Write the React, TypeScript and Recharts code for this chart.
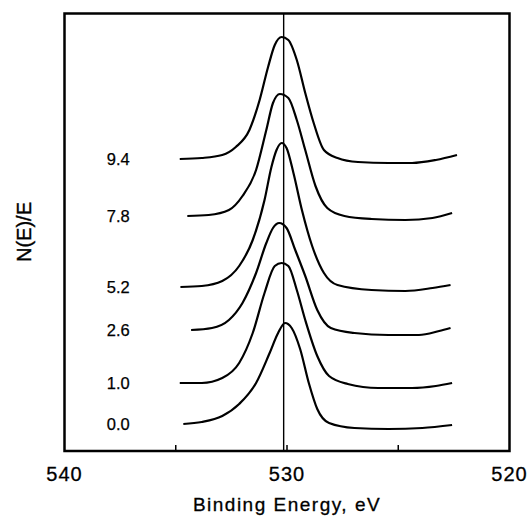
import React from "react";
import {
  LineChart,
  Line,
  XAxis,
  YAxis,
  ReferenceLine,
  ReferenceArea,
  ReferenceDot,
} from "recharts";

// O 1s spectra, [binding energy eV, N(E)/E offset intensity]
const curve94: [number, number][] = [
  [534.82, 292], [533.83, 293], [532.91, 296], [532.3, 304], [531.69, 321],
  [531.23, 351], [530.85, 384], [530.55, 406], [530.24, 414], [529.94, 411],
  [529.56, 391], [529.18, 358], [528.8, 328], [528.34, 301], [527.73, 293],
  [526.81, 289], [525.44, 288], [524.38, 288], [523.31, 291], [522.36, 296],
];
const curve78: [number, number][] = [
  [534.48, 235], [533.52, 236], [532.61, 241], [532.0, 255], [531.39, 281],
  [530.93, 321], [530.63, 348], [530.32, 357], [529.94, 353], [529.56, 331],
  [529.18, 301], [528.72, 265], [528.19, 243], [527.42, 235], [526.2, 232],
  [524.68, 231], [523.46, 233], [522.58, 238],
];
const curve52: [number, number][] = [
  [534.79, 164], [533.83, 165], [532.91, 170], [532.15, 185], [531.54, 211],
  [531.01, 251], [530.7, 284], [530.47, 301], [530.24, 308], [530.02, 303],
  [529.71, 278], [529.33, 241], [528.87, 205], [528.34, 178], [527.73, 166],
  [526.2, 161], [524.68, 160], [523.46, 163], [522.65, 166],
];
const curve26: [number, number][] = [
  [534.31, 121], [533.37, 123], [532.61, 131], [532.0, 148], [531.39, 178],
  [530.93, 208], [530.63, 223], [530.35, 228], [530.02, 223], [529.63, 201],
  [529.18, 175], [528.64, 141], [528.03, 123], [526.97, 118], [525.44, 116],
  [524.07, 116], [523.16, 120], [522.65, 123],
];
const curve10: [number, number][] = [
  [534.82, 68], [533.83, 68], [532.91, 73], [532.15, 88], [531.54, 118],
  [531.01, 158], [530.55, 185], [530.24, 188], [529.94, 185], [529.56, 161],
  [529.18, 131], [528.64, 95], [528.11, 75], [527.27, 67], [525.9, 63],
  [524.38, 63], [523.31, 65], [522.58, 68],
];
const curve00: [number, number][] = [
  [534.66, 27], [533.83, 29], [532.91, 35], [532.15, 47], [531.39, 68],
  [530.78, 98], [530.4, 118], [530.09, 128], [529.79, 123], [529.41, 102],
  [529.02, 68], [528.64, 42], [528.11, 28], [526.97, 23], [525.44, 22],
  [523.92, 23], [522.58, 26],
];

const curves = [curve94, curve78, curve52, curve26, curve10, curve00];
const curveLabels = ["9.4", "7.8", "5.2", "2.6", "1.0", "0.0"];

const xTicks = [540, 535, 530, 525, 520];
const peakLine = 530.15;
const labelEnergy = 538.1;
const yMax = 437.5;

const FONT = "'Liberation Sans', Arial, Helvetica, sans-serif";

function BottomTick(props: any) {
  const { x, y, payload } = props;
  const v = payload.value;
  return (
    <g>
      {v > 520 && v < 540 && (
        <line x1={x} x2={x} y1={y} y2={y - 6} stroke="#000" strokeWidth={1.5} />
      )}
      {v % 10 === 0 && (
        <text
          x={x}
          y={y + 30}
          textAnchor="middle"
          fontSize={20}
          fontFamily={FONT}
          letterSpacing={1}
          fill="#000"
          stroke="#000"
          strokeWidth={0.3}
        >
          {v}
        </text>
      )}
    </g>
  );
}

function TopTick(props: any) {
  const { x, y, payload } = props;
  const v = payload.value;
  if (v <= 520 || v >= 540) return <g />;
  return <line x1={x} x2={x} y1={y} y2={y + 6} stroke="#000" strokeWidth={1.5} />;
}

export default function App() {
  return (
    <div style={{ width: 531, height: 517, background: "#fff" }}>
      <style>{"body{margin:0}"}</style>
      <LineChart
        width={531}
        height={517}
        margin={{ top: 13.5, right: 21.5, left: 24.5, bottom: 36 }}
      >
        <XAxis
          dataKey="e"
          type="number"
          domain={[520, 540]}
          reversed
          ticks={xTicks}
          interval={0}
          tickSize={0}
          tickMargin={0}
          tickLine={false}
          axisLine={false}
          height={30}
          tick={<BottomTick />}
          label={{
            content: (p: any) => (
              <text
                x={p.viewBox.x + p.viewBox.width / 2}
                y={511}
                textAnchor="middle"
                fontSize={19}
                letterSpacing={1.5}
                fontFamily={FONT}
                fill="#000"
                stroke="#000"
                strokeWidth={0.3}
              >
                Binding Energy, eV
              </text>
            ),
          }}
        />
        <XAxis
          xAxisId="top"
          dataKey="e"
          type="number"
          orientation="top"
          domain={[520, 540]}
          reversed
          ticks={xTicks}
          interval={0}
          tickSize={0}
          tickMargin={0}
          tickLine={false}
          axisLine={false}
          height={0}
          tick={<TopTick />}
        />
        <YAxis
          type="number"
          domain={[0, yMax]}
          tick={false}
          tickLine={false}
          axisLine={false}
          width={40}
          label={{
            content: () => (
              <text
                x={24}
                y={232}
                transform="rotate(-90, 24, 232)"
                textAnchor="middle"
                dominantBaseline="central"
                fontSize={20}
                fontFamily={FONT}
                fill="#000"
                stroke="#000"
                strokeWidth={0.4}
              >
                N(E)/E
              </text>
            ),
          }}
        />
        <ReferenceArea
          x1={540}
          x2={520}
          y1={0}
          y2={yMax}
          fill="none"
          stroke="#000"
          strokeWidth={2.5}
        />
        <ReferenceLine x={peakLine} stroke="#000" strokeWidth={1.4} />
        {curves.map((c, i) => (
          <Line
            key={curveLabels[i]}
            data={c.map(([e, v]) => ({ e, v }))}
            dataKey="v"
            type="monotone"
            stroke="#000"
            strokeWidth={2.2}
            dot={false}
            activeDot={false}
            isAnimationActive={false}
          />
        ))}
        {curves.map((c, i) => (
          <ReferenceDot
            key={"lab" + i}
            x={labelEnergy}
            y={c[0][1]}
            r={0}
            shape={(p: any) => (
              <text
                x={p.cx}
                y={p.cy + 6}
                fontSize={16.5}
                fontFamily={FONT}
                fill="#000"
                stroke="#000"
                strokeWidth={0.25}
              >
                {curveLabels[i]}
              </text>
            )}
          />
        ))}
      </LineChart>
    </div>
  );
}
